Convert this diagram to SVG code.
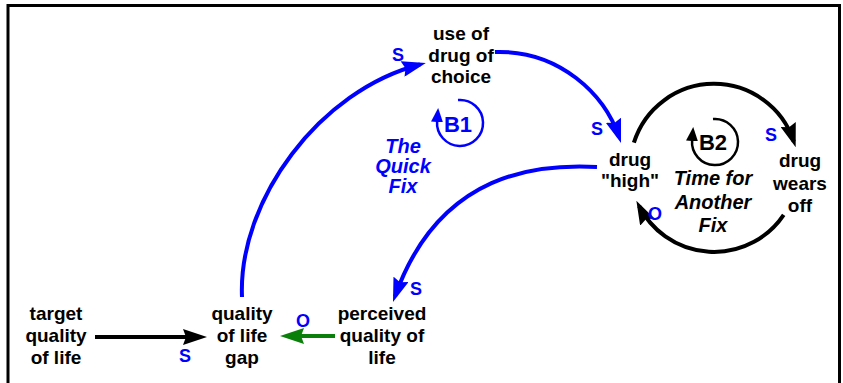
<svg xmlns="http://www.w3.org/2000/svg" width="843" height="383" viewBox="0 0 843 383">
<defs>
<style>
.lbl{font-family:"Liberation Sans",Arial,sans-serif;font-weight:bold;font-size:19px;fill:#000;text-anchor:middle}
.loop{font-family:"Liberation Sans",Arial,sans-serif;font-weight:bold;font-style:italic;font-size:20px;text-anchor:middle}
.pol{font-family:"Liberation Sans",Arial,sans-serif;font-weight:bold;font-size:18px;fill:#0000ff;text-anchor:middle}
.id{font-family:"Liberation Sans",Arial,sans-serif;font-weight:bold;font-size:22px;text-anchor:middle}
.c{fill:none;stroke-width:4}
.blue{stroke:#0000ff}
.black{stroke:#000}
.green{stroke:#0a800a}
.icon{fill:none;stroke-width:2.5}
</style>
<marker id="ab" markerUnits="userSpaceOnUse" markerWidth="24" markerHeight="16" viewBox="0 0 24 16" refX="18" refY="8" orient="auto"><path d="M0,0 L24,8 L0,16 L3,8 z" fill="#0000ff"/></marker>
<marker id="ak" markerUnits="userSpaceOnUse" markerWidth="24" markerHeight="16" viewBox="0 0 24 16" refX="18" refY="8" orient="auto"><path d="M0,0 L24,8 L0,16 L3,8 z" fill="#000"/></marker>
<marker id="ag" markerUnits="userSpaceOnUse" markerWidth="24" markerHeight="16" viewBox="0 0 24 16" refX="18" refY="8" orient="auto"><path d="M0,0 L24,8 L0,16 L3,8 z" fill="#0a800a"/></marker>
<marker id="sb" markerUnits="userSpaceOnUse" markerWidth="14" markerHeight="12" viewBox="0 0 14 12" refX="1" refY="6" orient="auto"><path d="M0,0 L14,6 L0,12 z" fill="#0000ff"/></marker>
<marker id="sk" markerUnits="userSpaceOnUse" markerWidth="14" markerHeight="12" viewBox="0 0 14 12" refX="1" refY="6" orient="auto"><path d="M0,0 L14,6 L0,12 z" fill="#000"/></marker>
</defs>
<rect width="843" height="383" fill="#fff"/>
<path d="M8,383 V5.5 H839.5 V383" fill="none" stroke="#000" stroke-width="3"/>

<g id="connectors">
<path class="c blue" d="M242,297 C238,200 320,90 420,64.5" marker-end="url(#ab)"/>
<path class="c blue" d="M495,52 C560,50 605,95 619.1,137.3" marker-end="url(#ab)"/>
<path class="c blue" d="M597,167 C540,164 440,170 395,296.3" marker-end="url(#ab)"/>
<path class="c black" d="M633.9,142.6 A84,84 0 0 1 793.8,141.6" marker-end="url(#ak)"/>
<path class="c black" d="M783.7,214.8 A84,84 0 0 1 639.1,206" marker-end="url(#ak)"/>
<path class="c black" d="M95,337 H201" marker-end="url(#ak)"/>
<path class="c green" d="M335,336 H286" marker-end="url(#ag)"/>
<text class="pol" x="398" y="61">S</text>
<text class="pol" x="597" y="135">S</text>
<text class="pol" x="771" y="141">S</text>
<text class="pol" x="655" y="220">O</text>
<text class="pol" x="416" y="295">S</text>
<text class="pol" x="303" y="327">O</text>
<text class="pol" x="185" y="362">S</text>
</g>

<g id="use-of-drug">
<text class="lbl" x="461" y="40">use of</text>
<text class="lbl" x="461" y="61.5">drug of</text>
<text class="lbl" x="461" y="83">choice</text>
</g>
<g id="drug-high">
<text class="lbl" x="630" y="166">drug</text>
<text class="lbl" x="630" y="187">"high"</text>
</g>
<g id="drug-wears-off">
<text class="lbl" x="800" y="167">drug</text>
<text class="lbl" x="800" y="189.5">wears</text>
<text class="lbl" x="800" y="212">off</text>
</g>
<g id="target-quality">
<text class="lbl" x="56" y="320">target</text>
<text class="lbl" x="56" y="342">quality</text>
<text class="lbl" x="56" y="364">of life</text>
</g>
<g id="quality-gap">
<text class="lbl" x="242" y="320">quality</text>
<text class="lbl" x="242" y="342">of life</text>
<text class="lbl" x="242" y="364">gap</text>
</g>
<g id="perceived-quality">
<text class="lbl" x="382" y="320">perceived</text>
<text class="lbl" x="382" y="342">quality of</text>
<text class="lbl" x="382" y="364">life</text>
</g>

<g id="loop-b1">
<path class="icon blue" d="M458,100 A23,23 0 1 1 437.1,121" marker-end="url(#sb)"/>
<text class="id" x="458" y="132" fill="#0000ff">B1</text>
<text class="loop" x="403" y="153" fill="#0000ff">The</text>
<text class="loop" x="403" y="173" fill="#0000ff">Quick</text>
<text class="loop" x="403" y="193" fill="#0000ff">Fix</text>
</g>
<g id="loop-b2">
<path class="icon black" d="M713,119.1 A23,23 0 1 1 692.1,140" marker-end="url(#sk)"/>
<text class="id" x="713" y="150" fill="#000">B2</text>
<text class="loop" x="713" y="185" fill="#000">Time for</text>
<text class="loop" x="713" y="208.5" fill="#000">Another</text>
<text class="loop" x="713" y="232" fill="#000">Fix</text>
</g>
</svg>
